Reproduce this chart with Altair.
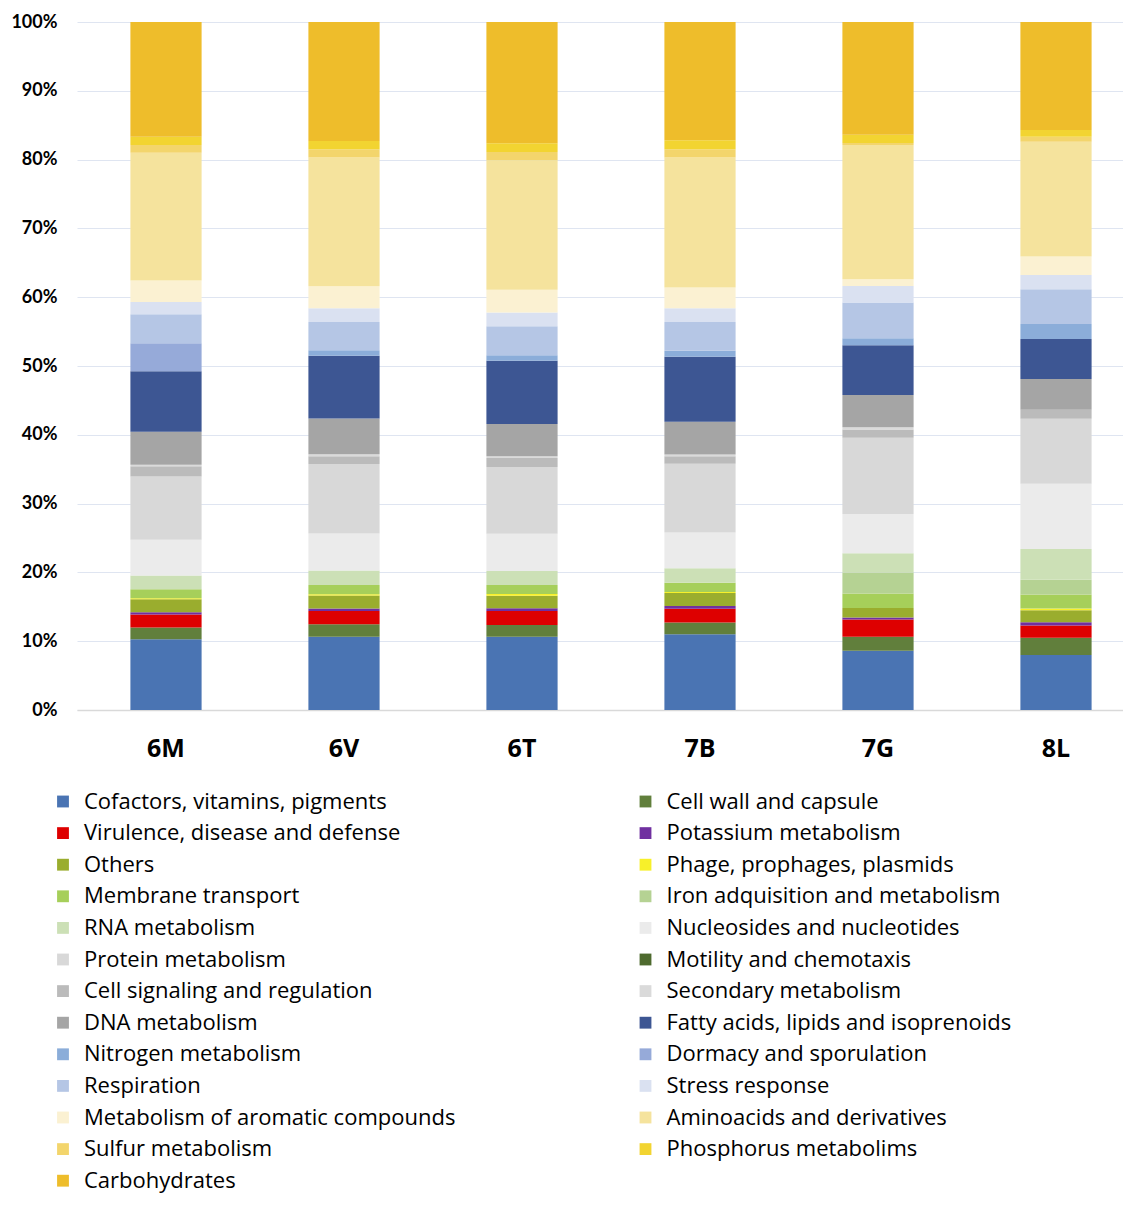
import altair as alt
import pandas as pd

samples = ["6M", "6V", "6T", "7B", "7G", "8L"]

# stacking order, bottom to top
categories = [
    "Cofactors, vitamins, pigments",
    "Cell wall and capsule",
    "Virulence, disease and defense",
    "Potassium metabolism",
    "Others",
    "Phage, prophages, plasmids",
    "Membrane transport",
    "Iron adquisition and metabolism",
    "RNA metabolism",
    "Nucleosides and nucleotides",
    "Protein metabolism",
    "Motility and chemotaxis",
    "Cell signaling and regulation",
    "Secondary metabolism",
    "DNA metabolism",
    "Fatty acids, lipids and isoprenoids",
    "Nitrogen metabolism",
    "Dormacy and sporulation",
    "Respiration",
    "Stress response",
    "Metabolism of aromatic compounds",
    "Aminoacids and derivatives",
    "Sulfur metabolism",
    "Phosphorus metabolims",
    "Carbohydrates",
]

colors = [
    "#4A74B3", "#617F3C", "#DE0000", "#7030A0", "#9AAD2E", "#F7F02A",
    "#A6CF5A", "#B5D293", "#CCE0B6", "#EBEBEB", "#D8D8D8", "#4E6A2E",
    "#BBBBBB", "#DADADA", "#A5A5A5", "#3D5693", "#8BADD9", "#96AAD9",
    "#B5C6E5", "#DAE1F1", "#FBF1D2", "#F5E39D", "#F3D56C", "#F2D431",
    "#EEBD2B",
]

v_6M = [10.3, 1.7, 1.9, 0.3, 1.9, 0.15, 1.3, 0, 2.0, 5.2, 9.2, 0, 1.5, 0.2, 4.8, 8.8, 0, 4.1, 4.2, 1.8, 3.1, 18.6, 1.1, 1.2, 16.7]
v_6V = [10.65, 1.8, 1.95, 0.35, 1.9, 0.15, 1.35, 0, 2.1, 5.4, 10.1, 0, 1.1, 0.3, 5.2, 9.1, 0.8, 0, 4.1, 2.0, 3.2, 18.7, 1.2, 1.2, 17.3]
v_6T = [10.65, 1.7, 2.05, 0.4, 1.8, 0.25, 1.3, 0, 2.05, 5.4, 9.7, 0, 1.3, 0.25, 4.7, 9.2, 0.8, 0, 4.2, 2.0, 3.3, 18.8, 1.2, 1.3, 17.6]
v_7B = [11.0, 1.7, 2.0, 0.4, 1.9, 0.15, 1.35, 0, 2.1, 5.2, 10.0, 0, 1.1, 0.25, 4.75, 9.45, 0.85, 0, 4.2, 2.0, 3.0, 18.9, 1.2, 1.3, 17.2]
v_7G = [8.6, 2.05, 2.5, 0.3, 1.4, 0, 2.1, 3.05, 2.8, 5.7, 11.1, 0, 1.2, 0.3, 4.7, 7.25, 1.0, 0, 5.2, 2.4, 1.0, 19.5, 0.3, 1.2, 16.4]
v_8L = [8.0, 2.5, 1.8, 0.45, 1.75, 0.25, 2.05, 2.15, 4.45, 9.5, 9.45, 0, 1.3, 0, 4.5, 5.8, 2.2, 0, 5.05, 2.05, 2.7, 16.7, 0.7, 1.0, 15.7]

series = {"6M": v_6M, "6V": v_6V, "6T": v_6T, "7B": v_7B, "7G": v_7G, "8L": v_8L}

rows = []
for s in samples:
    for i, (c, v) in enumerate(zip(categories, series[s])):
        rows.append({"sample": s, "category": c, "idx": i, "value": v})
df = pd.DataFrame(rows)

# legend is filled column by column: left column gets entries 0,2,4,..., right 1,3,5,...
legend_order = categories[0::2] + categories[1::2]
legend_colors = colors[0::2] + colors[1::2]

FONT = "Lato"
LEGEND_FONT = "Open Sans"

chart = (
    alt.Chart(df)
    .mark_bar()
    .encode(
        x=alt.X(
            "sample:N",
            sort=samples,
            scale=alt.Scale(paddingInner=0.6, paddingOuter=0.3, range=[0, 1068]),
            axis=alt.Axis(
                title=None,
                labelAngle=0,
                labelFont=LEGEND_FONT,
                labelFontSize=25,
                labelFontWeight="bold",
                labelColor="#000000",
                labelPadding=26,
                ticks=False,
                domainColor="#D9D9D9",
                domainWidth=1.5,
            ),
        ),
        y=alt.Y(
            "value:Q",
            stack="normalize",
            scale=alt.Scale(domain=[0, 1]),
            axis=alt.Axis(
                title=None,
                format=".0%",
                values=[0, 0.1, 0.2, 0.3, 0.4, 0.5, 0.6, 0.7, 0.8, 0.9, 1.0],
                labelFont=FONT,
                labelFontSize=18,
                labelFontWeight="bold",
                labelColor="#000000",
                labelPadding=20,
                ticks=False,
                domain=False,
                gridColor="#DFE5F1",
                gridWidth=1,
            ),
        ),
        color=alt.Color(
            "category:N",
            scale=alt.Scale(domain=legend_order, range=legend_colors),
            legend=alt.Legend(
                title=None,
                orient="none",
                legendX=-25,
                legendY=768.5,
                columns=2,
                columnPadding=178.5,
                rowPadding=9.6,
                symbolType="square",
                symbolSize=140,
                symbolStrokeWidth=0,
                labelFont=LEGEND_FONT,
                labelFontSize=22,
                labelColor="#000000",
                labelOffset=10,
                labelLimit=600,
                padding=0,
            ),
        ),
        order=alt.Order("idx:Q", sort="ascending"),
    )
    .properties(
        width=1046,
        height=688,
        autosize=alt.AutoSizeParams(type="none"),
        padding={"left": 69, "top": 14, "right": 0, "bottom": 487},
    )
    .configure_view(stroke=None)
)

chart.save("out.html", embed_options={"renderer": "svg", "actions": False})
